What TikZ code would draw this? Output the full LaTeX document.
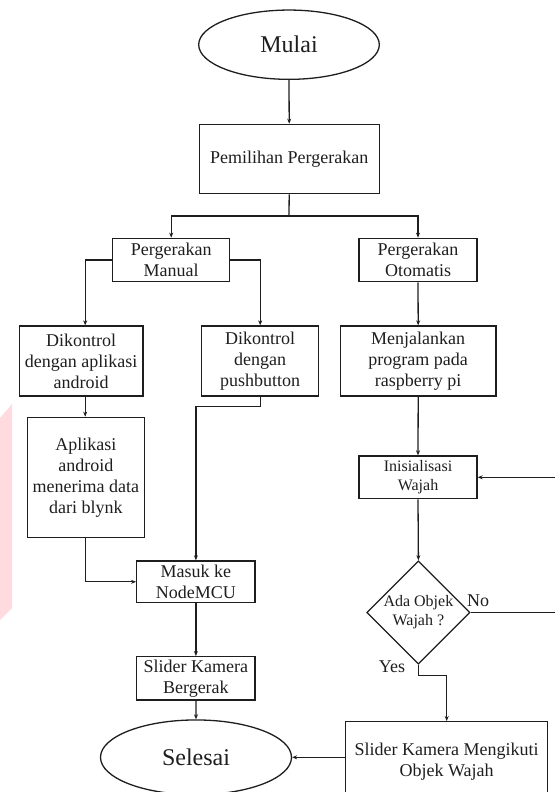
\documentclass[tikz,border=0pt]{standalone}
\usepackage{fontspec}
\setmainfont{Liberation Serif}
\usetikzlibrary{shapes.geometric,arrows.meta,calc}
\definecolor{ink}{RGB}{30,30,30}
\definecolor{wm}{RGB}{255,218,222}
\tikzset{
  box/.style={draw=ink,line width=1.3pt,rectangle,align=center,inner sep=0pt,font=\fontsize{18}{21}\selectfont,text=ink},
  term/.style={draw=ink,line width=1.3pt,ellipse,inner sep=0pt,font=\fontsize{24}{28}\selectfont,text=ink},
  dec/.style={draw=ink,line width=1.3pt,diamond,inner sep=0pt,aspect=1,align=center,font=\fontsize{16}{19}\selectfont,text=ink},
  arr/.style={draw=ink,line width=1.3pt,-{Stealth[length=5pt,width=4pt]}},
  ln/.style={draw=ink,line width=1.3pt},
  lbl/.style={font=\fontsize{18}{21}\selectfont,text=ink,inner sep=0pt}
}
\begin{document}
\begin{tikzpicture}[x=1pt,y=-1pt]
\useasboundingbox (0,0) rectangle (554,792);
\fill[wm] (0,418) -- (12,404) -- (12,608) -- (0,620) -- cycle;

\node[term,minimum width=180.6pt,minimum height=69.3pt] (mulai) at (289,44.7) {Mulai};
\node[box,minimum width=180pt,minimum height=69.4pt] (pilih) at (289.2,159) {Pemilihan Pergerakan};
\node[box,minimum width=117pt,minimum height=43.4pt] (manual) at (171.2,260) {Pergerakan\\Manual};
\node[box,minimum width=118pt,minimum height=43.4pt] (otomatis) at (418,260) {Pergerakan\\Otomatis};
\node[box,minimum width=123.7pt,minimum height=70pt] (android) at (81.2,361) {Dikontrol\\dengan aplikasi\\android};
\node[box,minimum width=117pt,minimum height=70pt] (push) at (260.2,361) {Dikontrol\\dengan\\pushbutton};
\node[box,minimum width=155.8pt,minimum height=70pt] (jalan) at (418.2,361) {Menjalankan\\program pada\\raspberry pi};
\node[box,minimum width=116.6pt,minimum height=120pt] (aplikasi) at (85.9,477.3) {Aplikasi\\android\\menerima data\\dari blynk};
\node[box,minimum width=118pt,minimum height=42.7pt,font=\fontsize{16}{19}\selectfont] (inis) at (418,477.3) {Inisialisasi\\Wajah};
\node[box,minimum width=118.4pt,minimum height=41.7pt] (masuk) at (195.9,581.8) {Masuk ke\\NodeMCU};
\node[dec,minimum width=101.8pt,minimum height=101.3pt] (ada) at (418.4,612.5) {Ada Objek\\Wajah ?};
\node[box,minimum width=118.4pt,minimum height=43.3pt] (slider) at (195.9,678.3) {Slider Kamera\\Bergerak};
\node[term,minimum width=191pt,minimum height=74.7pt] (selesai) at (196,757.3) {Selesai};
\node[box,minimum width=202pt,minimum height=80.6pt] (ikuti) at (446.7,762) {Slider Kamera Mengikuti\\Objek Wajah};

\node[lbl] (no) at (478,601) {No};
\node[lbl] (yes) at (392,667) {Yes};

\coordinate (xa) at (85.2,0);
\coordinate (br) at (289,216);
\coordinate (loopc) at (562,0);

\draw[arr] (mulai.south) -- (pilih.north);
\draw[ln] (pilih.south) -- (br);
\draw[arr] (br) -| (manual.north);
\draw[arr] (br) -| (otomatis.north);
\draw[arr] (manual.west) -| (android.north -| xa);
\draw[arr] (manual.east) -| (push.north);
\draw[arr] (otomatis.south) -- (jalan.north);
\draw[arr] (android.south -| xa) -- (aplikasi.north -| xa);
\draw[arr] (aplikasi.south -| xa) |- (masuk.west);
\draw[arr] (push.south) -- ++(0,10) -| (masuk.north);
\draw[arr] (jalan.south) -- (inis.north);
\draw[arr] (inis.south) -- (ada.north);
\draw[arr] (ada.east) -- (ada.east -| loopc) |- (inis.east);
\draw[arr] (ada.south) -- ++(0,11) -| (ikuti.north);
\draw[arr] (selesai.east -| ikuti.west) -- (selesai.east);
\draw[arr] (masuk.south) -- (slider.north);
\draw[arr] (slider.south) -- (selesai.north);
\end{tikzpicture}
\end{document}
